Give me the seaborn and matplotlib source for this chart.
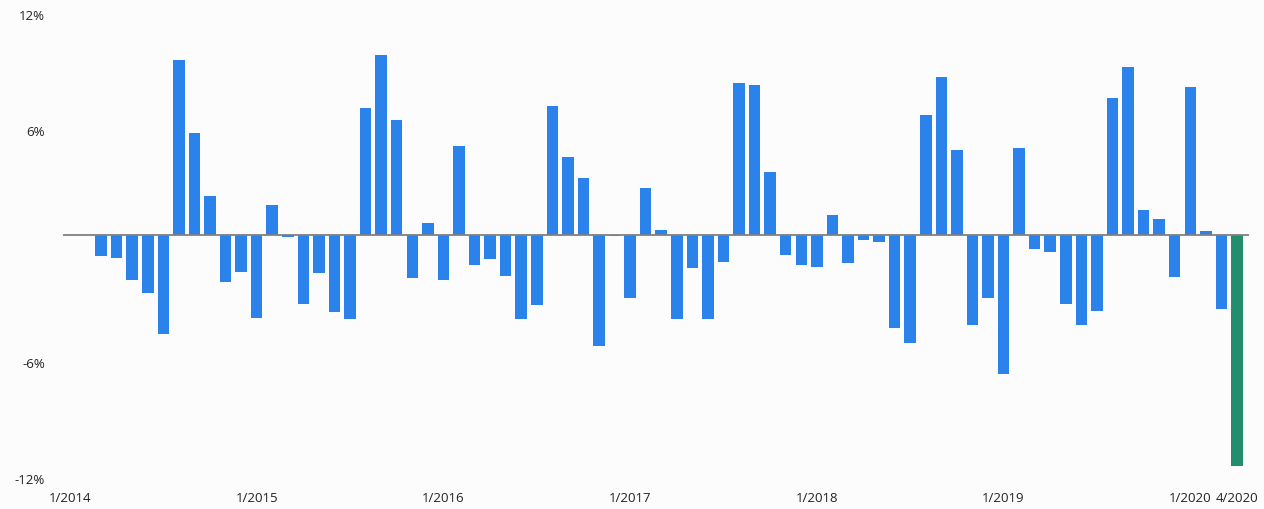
import pandas as pd
import matplotlib.pyplot as plt
import matplotlib.transforms as mtransforms
import seaborn as sns

# === 数据 ===
years = [2014, 2015, 2016, 2017, 2018, 2019, 2020]
months = [f"{m}/{y}" for y in years for m in range(1, 13)][:76]  # 1/2014 .. 4/2020

change_pct = [
    0.0, 0.0, -1.07, -1.21, -2.33, -2.98, -5.14, 9.07, 5.26, 2.02, -2.45, -1.90,
    -4.28, 1.57, -0.09, -3.57, -1.95, -3.97, -4.36, 6.57, 9.31, 5.95, -2.21, 0.64,
    -2.31, 4.60, -1.53, -1.22, -2.14, -4.33, -3.64, 6.67, 4.02, 2.95, -5.72, -0.03,
    -3.26, 2.45, 0.26, -4.36, -1.72, -4.33, -1.41, 7.88, 7.78, 3.26, -1.02, -1.53,
    -1.66, 1.05, -1.47, -0.24, -0.38, -4.81, -5.60, 6.22, 8.16, 4.40, -4.66, -3.26,
    -7.19, 4.52, -0.71, -0.90, -3.57, -4.66, -3.93, 7.09, 8.71, 1.31, 0.81, -2.19,
    7.64, 0.21, -3.81, -11.95,
]
kind = ["history"] * 75 + ["latest"]

xtick_labels = ["1/2014", "1/2015", "1/2016", "1/2017", "1/2018", "1/2019", "1/2020", "4/2020"]
ytick_values = [-12, -6, 6, 12]
ytick_labels = ["-12%", "-6%", "6%", "12%"]

colors = {"history": "#2A82EA", "latest": "#238E6E"}

df = pd.DataFrame({"month": months, "change": change_pct, "kind": kind})

# === 绘图 ===
sns.set_style("white")
plt.rcParams['font.family'] = ['Open Sans', 'DejaVu Sans']

fig = plt.figure(figsize=(12.64, 5.09), dpi=100, facecolor="#FCFCFC")
ax = fig.add_axes([0.0498, 0.0825, 0.9383, 0.9116])
ax.set_facecolor("#FCFCFC")

sns.barplot(data=df, x="month", y="change", hue="kind", palette=colors,
            dodge=False, width=0.74, legend=False, saturation=1,
            linewidth=0, ax=ax)

ax.axhline(0, color="#808080", lw=1.3, zorder=3)

ax.set_xlim(-0.45, 75.77)
ax.set_ylim(-12, 12)

ax.set_xticks([months.index(t) for t in xtick_labels])
ax.set_xticklabels(xtick_labels, fontsize=9.5, color="#222222")
ax.set_yticks(ytick_values)
ax.set_yticklabels(ytick_labels, fontsize=9.5, color="#222222")
ax.tick_params(axis="both", length=0)
ax.tick_params(axis="x", pad=18)
ax.tick_params(axis="y", pad=13)

# y 标签放在刻度值下方一点
offset = mtransforms.ScaledTranslation(0, -0.12, fig.dpi_scale_trans)
for lab in ax.get_yticklabels():
    lab.set_transform(lab.get_transform() + offset)

ax.set_xlabel("")
ax.set_ylabel("")
for s in ax.spines.values():
    s.set_visible(False)

fig.savefig("out.png", dpi=100, facecolor=fig.get_facecolor())
